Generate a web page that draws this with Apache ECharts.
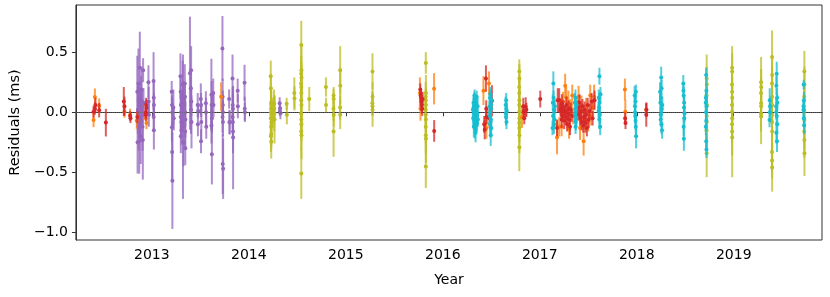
<!DOCTYPE html>
<html>
<head>
<meta charset="utf-8">
<script src="https://cdn.jsdelivr.net/npm/echarts@6/dist/echarts.min.js"></script>
<style>html,body{margin:0;padding:0;background:#fff}#c{width:830px;height:297px}</style>
</head>
<body>
<div id="c"></div>
<script>
// Each point: [decimal year, residual (ms), error (ms)]
const xTicks = [2013, 2014, 2015, 2016, 2017, 2018, 2019];
const xTickLabels = ['2013', '2014', '2015', '2016', '2017', '2018', '2019'];
const yTicks = [-1, -0.5, 0, 0.5];
const yTickLabels = ['\u22121.0', '\u22120.5', '0.0', '0.5'];

const purple = [
  [2012.850,0.17,0.3],[2012.853,-0.25,0.26],[2012.856,0.02,0.2],[2012.862,0.24,0.29],[2012.864,-0.12,0.2],
  [2012.866,0.1,0.15],[2012.870,-0.24,0.27],[2012.876,0.37,0.3],[2012.879,0.0,0.2],[2012.882,-0.06,0.18],
  [2012.885,-0.2,0.23],[2012.888,0.1,0.2],[2012.895,0.19,0.19],[2012.900,0.05,0.15],[2012.904,-0.12,0.2],
  [2012.907,-0.23,0.33],[2012.910,0.35,0.1],[2012.914,0.08,0.12],
  [2012.965,0.25,0.14],[2012.967,0.09,0.12],[2012.969,-0.02,0.1],
  [2013.018,0.26,0.24],[2013.020,0.12,0.15],[2013.022,0.06,0.1],[2013.019,-0.04,0.12],[2013.021,-0.15,0.16],
  [2013.205,0.17,0.09],[2013.208,0.06,0.08],[2013.211,0.0,0.12],[2013.207,-0.125,0.12],[2013.209,-0.33,0.25],
  [2013.212,-0.57,0.4],[2013.222,0.04,0.15],[2013.226,-0.05,0.1],
  [2013.295,0.30,0.19],[2013.297,0.17,0.12],[2013.300,0.06,0.1],[2013.302,0.0,0.15],[2013.298,-0.04,0.12],
  [2013.304,-0.08,0.14],[2013.306,-0.15,0.12],[2013.299,-0.2,0.14],
  [2013.318,0.23,0.2],[2013.320,0.12,0.14],[2013.322,0.06,0.12],[2013.324,-0.02,0.1],[2013.321,-0.12,0.6],[2013.326,-0.25,0.2],
  [2013.340,0.24,0.16],[2013.342,0.13,0.12],[2013.344,0.0,0.12],[2013.346,-0.06,0.15],[2013.343,-0.16,0.15],[2013.345,-0.3,0.14],
  [2013.393,0.325,0.47],[2013.405,0.35,0.2],[2013.402,0.2,0.15],[2013.407,0.09,0.12],[2013.404,0.02,0.2],[2013.409,-0.08,0.22],
  [2013.473,0.06,0.1],[2013.475,-0.1,0.1],[2013.478,0.01,0.06],
  [2013.505,0.11,0.13],[2013.508,0.06,0.1],[2013.510,-0.08,0.15],[2013.507,-0.24,0.1],
  [2013.557,0.075,0.1],[2013.559,0.0,0.12],[2013.561,-0.12,0.1],
  [2013.614,0.145,0.3],[2013.616,0.06,0.2],[2013.618,0.0,0.15],[2013.620,-0.05,0.12],[2013.615,-0.11,0.15],[2013.619,-0.35,0.25],
  [2013.633,0.16,0.12],[2013.636,0.06,0.1],
  [2013.728,0.53,0.27],[2013.730,0.13,0.15],[2013.732,0.06,0.12],[2013.734,0.0,0.1],[2013.729,-0.04,0.13],
  [2013.733,-0.08,0.12],[2013.731,-0.43,0.25],[2013.735,-0.47,0.25],
  [2013.797,0.11,0.08],[2013.800,-0.08,0.1],[2013.803,-0.085,0.1],
  [2013.832,0.28,0.2],[2013.834,0.06,0.15],[2013.836,0.03,0.12],[2013.833,-0.04,0.1],[2013.835,-0.08,0.14],
  [2013.837,-0.16,0.18],[2013.838,-0.21,0.43],
  [2013.885,0.18,0.1],[2013.887,0.05,0.1],
  [2013.956,0.245,0.15],[2013.958,0.03,0.1],[2013.960,0.0,0.08],
  [2014.318,0.075,0.05],[2014.322,0.033,0.05],[2014.326,-0.008,0.05],[2014.320,0.01,0.04]
];

const olive = [
  [2014.226,0.30,0.13],[2014.228,0.2,0.12],[2014.230,0.08,0.1],[2014.232,0.06,0.12],[2014.229,0.03,0.15],
  [2014.231,0.0,0.1],[2014.233,-0.02,0.12],[2014.227,-0.05,0.15],[2014.234,-0.08,0.1],[2014.230,-0.12,0.13],
  [2014.232,-0.18,0.12],[2014.228,-0.2,0.13],[2014.231,-0.245,0.14],[2014.260,0.07,0.12],[2014.263,-0.01,0.15],
  [2014.265,-0.06,0.2],[2014.262,0.03,0.1],[2014.250,0.02,0.1],[2014.245,-0.05,0.08],
  [2014.390,0.07,0.05],[2014.392,-0.02,0.08],
  [2014.469,0.16,0.13],[2014.471,0.115,0.1],
  [2014.541,0.56,0.2],[2014.542,0.35,0.2],[2014.540,0.32,0.15],[2014.543,0.29,0.13],[2014.539,0.24,0.15],
  [2014.541,0.21,0.12],[2014.542,0.16,0.12],[2014.540,0.1,0.15],[2014.543,0.06,0.12],[2014.539,-0.01,0.15],
  [2014.541,-0.06,0.12],[2014.542,-0.1,0.14],[2014.540,-0.16,0.15],[2014.543,-0.19,0.2],[2014.541,-0.51,0.21],
  [2014.623,0.11,0.1],
  [2014.795,0.21,0.08],[2014.796,0.06,0.06],
  [2014.874,0.14,0.07],[2014.875,0.11,0.08],[2014.873,0.03,0.1],[2014.876,-0.02,0.1],[2014.874,-0.16,0.21],
  [2014.942,0.35,0.2],[2014.943,0.22,0.15],[2014.941,0.04,0.1],[2014.942,-0.02,0.12],
  [2015.275,0.34,0.15],[2015.276,0.13,0.12],[2015.274,0.075,0.1],[2015.275,0.05,0.08],[2015.276,0.02,0.14],
  [2015.825,0.41,0.09],[2015.826,0.16,0.15],[2015.824,0.13,0.12],[2015.825,0.1,0.1],[2015.826,0.06,0.12],
  [2015.824,0.02,0.1],[2015.825,-0.02,0.12],[2015.826,-0.06,0.1],[2015.824,-0.12,0.15],[2015.825,-0.19,0.15],
  [2015.826,-0.22,0.2],[2015.825,-0.45,0.18],
  [2016.789,0.34,0.1],[2016.790,0.28,0.12],[2016.788,0.21,0.1],[2016.789,0.16,0.12],[2016.790,0.1,0.1],
  [2016.788,0.06,0.1],[2016.789,0.005,0.1],[2016.790,-0.05,0.12],[2016.788,-0.09,0.1],[2016.789,-0.13,0.12],
  [2016.790,-0.19,0.15],[2016.789,-0.29,0.2],
  [2018.721,0.28,0.2],[2018.722,0.23,0.15],[2018.720,0.14,0.12],[2018.723,0.06,0.15],[2018.721,-0.03,0.12],
  [2018.722,-0.08,0.15],[2018.720,-0.15,0.15],[2018.721,-0.34,0.2],
  [2018.983,0.37,0.18],[2018.984,0.34,0.15],[2018.982,0.23,0.15],[2018.983,0.17,0.12],[2018.984,0.12,0.12],
  [2018.982,0.06,0.15],[2018.983,0.005,0.12],[2018.984,-0.05,0.15],[2018.982,-0.1,0.15],[2018.983,-0.16,0.2],
  [2018.984,-0.21,0.33],
  [2019.282,0.25,0.21],[2019.283,0.21,0.15],[2019.281,0.16,0.12],[2019.282,0.075,0.12],[2019.283,0.05,0.1],
  [2019.281,-0.01,0.15],[2019.282,-0.035,0.23],
  [2019.395,0.46,0.22],[2019.396,0.31,0.15],[2019.394,0.24,0.15],[2019.395,0.13,0.12],[2019.396,0.06,0.12],
  [2019.394,-0.02,0.12],[2019.395,-0.08,0.15],[2019.396,-0.16,0.15],[2019.394,-0.33,0.15],[2019.395,-0.4,0.15],
  [2019.396,-0.46,0.2],
  [2019.728,0.34,0.17],[2019.729,0.23,0.15],[2019.727,0.13,0.12],[2019.728,0.015,0.15],[2019.729,-0.065,0.12],
  [2019.727,-0.16,0.15],[2019.728,-0.23,0.15],[2019.729,-0.34,0.19]
];

const red = [
  [2012.399,0.005,0.05],[2012.413,0.03,0.05],[2012.419,0.06,0.06],[2012.457,0.017,0.06],[2012.526,-0.086,0.115],
  [2012.711,0.09,0.12],[2012.718,0.05,0.08],[2012.780,-0.05,0.04],[2012.776,-0.03,0.04],
  [2012.850,-0.04,0.05],
  [2012.938,0.0,0.05],[2012.941,0.06,0.06],[2012.944,0.035,0.07],[2012.936,-0.02,0.05],
  [2015.768,0.19,0.05],[2015.772,0.14,0.06],[2015.776,0.12,0.07],[2015.780,0.09,0.08],[2015.784,0.06,0.07],
  [2015.788,0.03,0.06],[2015.792,0.11,0.06],[2015.911,-0.155,0.09],
  [2016.427,-0.10,0.07],[2016.432,-0.145,0.08],[2016.445,0.28,0.11],[2016.448,0.03,0.07],[2016.452,-0.04,0.06],
  [2016.482,-0.05,0.08],[2016.507,0.095,0.13],
  [2016.830,0.05,0.07],[2016.835,0.005,0.06],[2016.840,-0.05,0.05],[2016.855,0.045,0.08],[2016.862,0.02,0.06],
  [2017.005,0.11,0.07],
  [2017.178,-0.13,0.07],[2017.185,0.10,0.1],[2017.222,0.03,0.06],[2017.225,-0.06,0.07],
  [2017.200,0.10,0.1],[2017.215,0.02,0.06],[2017.228,0.07,0.08],[2017.235,-0.03,0.05],[2017.245,0.04,0.06],
  [2017.252,-0.07,0.07],[2017.260,0.01,0.05],[2017.268,-0.04,0.06],[2017.275,0.06,0.07],[2017.282,-0.10,0.06],
  [2017.290,-0.01,0.05],[2017.298,0.03,0.07],[2017.305,-0.06,0.05],[2017.312,-0.12,0.07],[2017.320,0.02,0.06],
  [2017.330,-0.03,0.05],
  [2017.395,0.04,0.06],[2017.402,-0.02,0.05],[2017.410,0.08,0.07],[2017.418,-0.05,0.06],[2017.425,0.01,0.05],
  [2017.432,-0.08,0.07],[2017.440,0.05,0.06],[2017.448,-0.11,0.06],[2017.455,-0.04,0.05],[2017.462,0.02,0.07],
  [2017.470,-0.09,0.08],[2017.478,-0.02,0.05],[2017.486,-0.13,0.07],[2017.494,0.06,0.06],[2017.505,-0.06,0.07],
  [2017.515,0.01,0.06],[2017.535,0.09,0.07],[2017.545,-0.05,0.06],[2017.565,0.10,0.08],
  [2017.880,-0.05,0.05],[2017.884,-0.09,0.05],
  [2018.098,-0.02,0.1],[2018.100,0.02,0.06]
];

const orange = [
  [2012.399,-0.064,0.06],[2012.413,0.128,0.07],[2012.457,0.055,0.06],[2012.718,0.005,0.05],[2012.776,-0.02,0.05],
  [2012.845,-0.07,0.07],[2012.941,-0.05,0.05],[2012.945,-0.09,0.05],
  [2013.714,0.13,0.12],
  [2015.764,0.16,0.13],[2015.770,0.03,0.1],[2015.910,0.195,0.13],
  [2016.419,0.18,0.12],[2016.446,-0.05,0.1],[2016.450,-0.13,0.09],[2016.476,0.24,0.1],[2016.817,-0.04,0.09],
  [2017.178,-0.21,0.14],[2017.225,-0.12,0.08],
  [2017.200,-0.12,0.08],[2017.215,0.05,0.07],[2017.240,0.09,0.08],[2017.262,0.22,0.1],[2017.272,0.12,0.09],
  [2017.285,-0.05,0.08],[2017.295,0.08,0.1],[2017.302,-0.14,0.08],[2017.318,0.04,0.07],[2017.335,0.14,0.09],
  [2017.345,-0.03,0.07],
  [2017.390,-0.01,0.06],[2017.400,0.13,0.09],[2017.415,-0.13,0.1],[2017.430,0.06,0.08],[2017.452,-0.24,0.12],
  [2017.462,-0.06,0.08],[2017.478,0.05,0.07],[2017.500,-0.07,0.09],[2017.520,0.14,0.09],[2017.530,-0.03,0.08],
  [2017.550,0.04,0.07],[2017.560,0.13,0.1],
  [2017.878,0.19,0.09],[2017.882,0.005,0.1],
  [2018.096,0.02,0.05]
];

const cyan = [
  [2016.310,0.02,0.07],[2016.314,-0.05,0.08],[2016.317,0.08,0.07],[2016.320,-0.12,0.09],[2016.323,0.0,0.06],
  [2016.326,0.11,0.06],[2016.329,-0.08,0.07],[2016.332,0.04,0.06],[2016.335,-0.02,0.07],[2016.338,-0.17,0.08],
  [2016.341,0.06,0.07],[2016.344,-0.04,0.06],[2016.347,0.01,0.08],[2016.350,0.13,0.05],[2016.353,-0.09,0.07],
  [2016.356,-0.01,0.06],[2016.359,0.05,0.07],[2016.362,-0.06,0.06],
  [2016.318,0.04,0.06],[2016.324,-0.07,0.07],[2016.330,0.09,0.06],[2016.336,0.02,0.07],[2016.340,-0.11,0.07],
  [2016.346,0.07,0.06],[2016.352,-0.03,0.07],[2016.333,-0.14,0.08],[2016.328,0.14,0.05],
  [2016.482,0.05,0.08],[2016.484,-0.03,0.07],[2016.486,0.12,0.07],[2016.488,-0.10,0.08],[2016.490,0.0,0.06],
  [2016.492,0.08,0.07],[2016.494,-0.19,0.09],[2016.496,-0.06,0.07],[2016.498,0.03,0.06],[2016.500,-0.13,0.08],
  [2016.502,0.10,0.06],[2016.489,0.15,0.06],[2016.493,-0.08,0.07],[2016.497,0.06,0.07],
  [2016.648,0.06,0.07],[2016.651,-0.04,0.07],[2016.654,0.1,0.06],[2016.657,-0.08,0.06],[2016.660,0.01,0.07],
  [2016.650,-0.01,0.05],[2016.655,0.03,0.06],
  [2017.140,0.24,0.1],[2017.134,0.08,0.07],[2017.137,-0.03,0.06],[2017.143,0.12,0.06],[2017.146,-0.1,0.08],
  [2017.149,0.02,0.07],[2017.152,-0.06,0.07],[2017.155,0.05,0.06],[2017.131,-0.13,0.06],
  [2017.362,0.08,0.08],[2017.365,-0.02,0.07],[2017.368,0.12,0.07],[2017.371,-0.08,0.07],[2017.374,0.03,0.06],
  [2017.377,-0.05,0.07],[2017.380,0.06,0.06],[2017.369,-0.12,0.06],
  [2017.615,0.30,0.07],[2017.608,0.12,0.07],[2017.611,0.04,0.08],[2017.614,-0.06,0.08],[2017.617,0.08,0.06],
  [2017.620,-0.02,0.07],[2017.623,-0.12,0.07],[2017.606,0.01,0.06],[2017.626,0.15,0.06],
  [2017.978,0.14,0.08],[2017.981,0.05,0.08],[2017.984,-0.03,0.07],[2017.987,0.09,0.07],[2017.990,-0.12,0.09],
  [2017.993,-0.2,0.1],[2017.982,0.0,0.06],[2017.988,-0.07,0.08],[2017.991,0.17,0.06],
  [2018.252,0.29,0.09],[2018.240,0.17,0.08],[2018.243,0.08,0.08],[2018.246,-0.02,0.07],[2018.249,0.12,0.07],
  [2018.255,-0.10,0.08],[2018.258,0.03,0.06],[2018.261,-0.15,0.07],[2018.264,0.06,0.07],[2018.247,-0.06,0.06],
  [2018.256,0.2,0.07],
  [2018.480,0.24,0.07],[2018.484,0.14,0.07],[2018.487,0.04,0.08],[2018.490,-0.05,0.08],[2018.483,-0.12,0.08],
  [2018.486,-0.22,0.1],[2018.489,0.08,0.06],[2018.492,-0.01,0.07],[2018.481,0.18,0.06],
  [2018.715,0.31,0.06],[2018.718,0.18,0.07],[2018.711,0.08,0.07],[2018.714,0.0,0.08],[2018.717,-0.07,0.08],
  [2018.720,0.05,0.06],[2018.712,-0.12,0.07],[2018.716,-0.24,0.06],[2018.719,-0.31,0.07],[2018.713,0.12,0.06],
  [2019.371,0.1,0.1],[2019.373,0.0,0.07],[2019.369,-0.065,0.06],[2019.375,0.05,0.07],
  [2019.443,0.32,0.1],[2019.440,0.22,0.08],[2019.446,0.12,0.08],[2019.437,0.05,0.07],[2019.443,-0.03,0.08],
  [2019.449,-0.1,0.08],[2019.440,-0.17,0.09],[2019.446,-0.24,0.09],[2019.438,0.0,0.06],[2019.450,0.08,0.07],
  [2019.721,0.23,0.04],[2019.723,0.1,0.07],[2019.719,0.02,0.07],[2019.722,-0.05,0.06],[2019.725,-0.11,0.07],
  [2019.720,0.05,0.05]
];

const groups = [
  {data: purple, color: '#9467bd'},
  {data: olive, color: '#bcbd22'},
  {data: orange, color: '#ff7f0e'},
  {data: red, color: '#d62728'},
  {data: cyan, color: '#17becf'}
];

const FONT = 'DejaVu Sans';
const chart = echarts.init(document.getElementById('c'), null, {renderer: 'canvas'});

const series = [{
  type: 'line', data: [], z: 1, silent: true,
  markLine: {
    silent: true, symbol: 'none', label: {show: false}, animation: false,
    lineStyle: {color: '#666', width: 0.8, type: [1, 1]},
    data: [{yAxis: 0}]
  }
}];
groups.forEach(function (g, gi) {
  series.push({
    type: 'custom', data: g.data, z: 2 + gi * 2, silent: true,
    encode: {x: 0, y: 1},
    renderItem: function (params, api) {
      const x = api.value(0), y = api.value(1), e = api.value(2);
      const p1 = api.coord([x, y - e]);
      const p2 = api.coord([x, y + e]);
      return {
        type: 'line',
        shape: {x1: p1[0], y1: p1[1], x2: p2[0], y2: p2[1]},
        style: {stroke: g.color, lineWidth: 2, opacity: 0.75}
      };
    }
  });
  series.push({
    type: 'scatter', data: g.data, z: 3 + gi * 2, silent: true,
    encode: {x: 0, y: 1},
    symbol: 'circle', symbolSize: 4,
    itemStyle: {color: g.color, opacity: 1}
  });
});

chart.setOption({
  animation: false,
  backgroundColor: '#fff',
  grid: {left: 75, right: 8, top: 5, bottom: 57, show: true, borderColor: '#333', borderWidth: 1, backgroundColor: 'transparent'},
  xAxis: {
    type: 'value', min: 2012.217, max: 2019.91,
    name: 'Year', nameLocation: 'middle', nameGap: 33,
    nameTextStyle: {fontFamily: FONT, fontSize: 14, color: '#000'},
    axisLine: {show: true, lineStyle: {color: '#333', width: 1}},
    axisTick: {show: true, length: 4, inside: false, customValues: xTicks, lineStyle: {color: '#333'}},
    axisLabel: {
      customValues: xTicks, margin: 8, fontFamily: FONT, fontSize: 14, color: '#000',
      formatter: function (v) { const i = xTicks.indexOf(Math.round(v)); return i >= 0 ? xTickLabels[i] : ''; }
    },
    splitLine: {show: false}
  },
  yAxis: {
    type: 'value', min: -1.062, max: 0.892,
    name: 'Residuals (ms)', nameLocation: 'middle', nameGap: 52, nameRotate: 90,
    nameTextStyle: {fontFamily: FONT, fontSize: 14.5, color: '#000'},
    axisLine: {show: true, lineStyle: {color: '#333', width: 1}},
    axisTick: {show: true, length: 4, inside: false, customValues: yTicks, lineStyle: {color: '#333'}},
    axisLabel: {
      customValues: yTicks, margin: 8, fontFamily: FONT, fontSize: 14, color: '#000',
      formatter: function (v) {
        for (let i = 0; i < yTicks.length; i++) { if (Math.abs(yTicks[i] - v) < 1e-6) return yTickLabels[i]; }
        return '';
      }
    },
    splitLine: {show: false}
  },
  series: series
});
</script>
</body>
</html>
